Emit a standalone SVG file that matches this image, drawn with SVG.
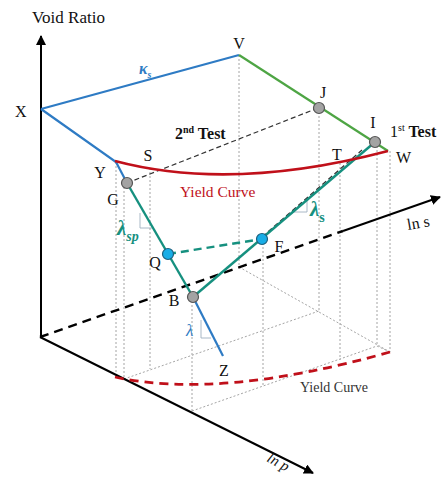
<svg xmlns="http://www.w3.org/2000/svg" width="446" height="482" viewBox="0 0 446 482" font-family="'Liberation Serif', 'DejaVu Serif', serif">
<defs>
<marker id="arr" viewBox="0 0 10 10" refX="9" refY="5" markerWidth="5" markerHeight="5" orient="auto" markerUnits="strokeWidth">
<path d="M0,0 L10,5 L0,10 z" fill="#000"/>
</marker>
<style>
text{font-family:"Liberation Serif","DejaVu Serif",serif;fill:#111;}
.lbl{font-size:16px;}
.dot{stroke:#9a9a9a;stroke-width:0.9;stroke-dasharray:2,2;fill:none;}
.axis{stroke:#000;stroke-width:2;fill:none;}
.bdash{stroke:#000;stroke-width:2.4;stroke-dasharray:9,6;fill:none;}
.tdash{stroke:#333;stroke-width:1.2;stroke-dasharray:5,3;fill:none;}
.blue{stroke:#2e7bc4;stroke-width:2.2;fill:none;}
.teal{stroke:#16907f;stroke-width:2.4;fill:none;}
.green{stroke:#4ea544;stroke-width:2.2;fill:none;}
.red{stroke:#c0101a;stroke-width:2.6;fill:none;}
.reddash{stroke:#c0101a;stroke-width:2.8;stroke-dasharray:9,6;fill:none;}
.slope{stroke:#9fb0c0;stroke-width:0.9;fill:none;}
.gray{fill:#a3a3a3;stroke:#555;stroke-width:1.2;}
.cyan{fill:#18ade6;stroke:#1d5f7d;stroke-width:1.2;}
</style>
</defs>
<rect width="446" height="482" fill="#fff"/>
<g id="connectors">
<path class="dot" d="M116,162 V376 M124,183 V379 M150,168 V369 M192,297 V411 M239,55 V267 M263,239 V386 M319,108 V311 M340,163 V360 M377,142 V346 M390,151 V352"/>
<path class="dot" d="M124,379 L319,311 M192,411 L377,346 M239,267 L390,352 M377,346 L390,352"/>
<line class="axis" x1="41" y1="337" x2="41" y2="36" marker-end="url(#arr)"/>
<line class="axis" x1="40" y1="337" x2="313" y2="473" marker-end="url(#arr)"/>
<line class="bdash" x1="40" y1="337" x2="343" y2="231"/>
<line class="axis" x1="343" y1="231" x2="440" y2="197" marker-end="url(#arr)"/>
<path class="reddash" d="M115,377 Q220,400 390,352"/>
<line class="tdash" x1="127" y1="183" x2="318" y2="108"/>
<line class="tdash" x1="262" y1="237" x2="362" y2="150"/>
<line stroke="#16907f" stroke-width="2.4" stroke-dasharray="8,5" x1="168" y1="254" x2="262" y2="239"/>
<path class="slope" d="M140,213 V228 H152"/>
<path class="slope" d="M201,320 V338 H211"/>
<path class="slope" d="M293,212 H307 V199"/>
<path class="blue" d="M41,109 L239,55"/>
<path class="green" d="M239,55 L388,151"/>
<path class="blue" d="M41,109 L116,162 L127,183"/>
<path class="teal" d="M127,183 L193,297"/>
<path class="blue" d="M193,297 L223,356"/>
<path class="teal" d="M193,297 L375,142"/>
<path class="red" d="M115,161 Q232,192 388,151"/>
</g>
<g id="node-X"><text class="lbl" x="15" y="117">X</text></g>
<g id="node-V"><text class="lbl" x="239" y="49" text-anchor="middle">V</text></g>
<g id="node-J"><circle class="gray" cx="319" cy="108" r="5.5"/><text class="lbl" x="323" y="98" text-anchor="middle">J</text></g>
<g id="node-I"><circle class="gray" cx="375" cy="142" r="5.5"/><text class="lbl" x="373" y="128" text-anchor="middle">I</text></g>
<g id="node-W"><text class="lbl" x="396" y="163">W</text></g>
<g id="node-T"><text class="lbl" x="337" y="160" text-anchor="middle">T</text></g>
<g id="node-S"><text class="lbl" x="148" y="161" text-anchor="middle">S</text></g>
<g id="node-Y"><text class="lbl" x="100" y="178" text-anchor="middle">Y</text></g>
<g id="node-G"><circle class="gray" cx="127" cy="183" r="5.5"/><text class="lbl" x="113" y="205" text-anchor="middle">G</text></g>
<g id="node-Q"><circle class="cyan" cx="168" cy="254" r="5.5"/><text class="lbl" x="155" y="268" text-anchor="middle">Q</text></g>
<g id="node-B"><circle class="gray" cx="193" cy="297" r="5.5"/><text class="lbl" x="174" y="306" text-anchor="middle">B</text></g>
<g id="node-F"><circle class="cyan" cx="262" cy="239" r="5.5"/><text class="lbl" x="279" y="252" text-anchor="middle">F</text></g>
<g id="node-Z"><text class="lbl" x="224" y="376" text-anchor="middle">Z</text></g>
<g id="labels">
<text x="32" y="23" font-size="17">Void Ratio</text>
<text x="175" y="139" font-size="16" font-weight="bold">2<tspan font-size="10" dy="-6">nd</tspan><tspan dy="6"> Test</tspan></text>
<text x="390" y="137" font-size="16">1<tspan font-size="10" dy="-6">st</tspan><tspan dy="6" font-weight="bold"> Test</tspan></text>
<text x="180" y="197" font-size="15.5" style="fill:#c0101a">Yield Curve</text>
<text x="300" y="392" font-size="14" style="fill:#333">Yield Curve</text>
<text x="139" y="74" font-size="16" font-style="italic" font-weight="bold" style="fill:#2e7bc4">κ<tspan font-size="10" dy="4">s</tspan></text>
<text x="117" y="235" font-size="21" font-style="italic" font-weight="bold" style="fill:#16907f">λ<tspan font-size="14" dy="6">sp</tspan></text>
<text x="310" y="216" font-size="21" font-style="italic" font-weight="bold" style="fill:#16907f">λ<tspan font-size="14" dy="6" font-style="normal">s</tspan></text>
<text x="186" y="336" font-size="17" font-style="italic" style="fill:#2e7bc4">λ</text>
<text x="408" y="230" font-size="16" transform="rotate(-10 408 230)">ln  s</text>
<text x="266" y="461" font-size="15" font-style="italic" transform="rotate(28 266 461)">ln p</text>
</g>
</svg>
